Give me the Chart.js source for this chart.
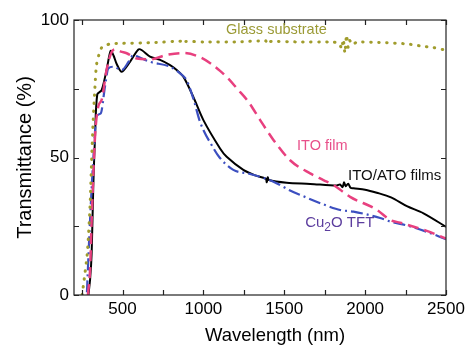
<!DOCTYPE html>
<html>
<head>
<meta charset="utf-8">
<script src="https://cdn.jsdelivr.net/npm/chart.js@4/dist/chart.umd.min.js"></script>
<style>
	html, body { margin: 0; padding: 0; background: #fff; }
	#wrap { width: 469px; height: 347px; }
</style>
</head>
<body>
<div id="wrap"><canvas id="spec"></canvas></div>
<script>
// 刻度
const xTicks = [250, 500, 750, 1000, 1250, 1500, 1750, 2000, 2250, 2500];
const xLabels = [500, 1000, 1500, 2000, 2500];
const yTicks = [0, 25, 50, 75, 100];
const yLabels = [0, 50, 100];

// Glass substrate
const glassNm = [250, 257, 282, 299, 309, 319, 330, 340, 371, 423, 500, 700, 870, 880, 890, 1000, 1200, 1385, 1395, 1405, 1600, 1800, 1840, 1855, 1865, 1875, 1885, 1895, 1905, 1920, 1950, 2100, 2260, 2350, 2420, 2500];
const glassT = [0, 3, 15, 32, 49, 64, 76, 84, 90, 91.3, 91.5, 91.8, 92.3, 91.5, 92.2, 92, 92, 92.4, 91.3, 92.2, 92, 92, 91.5, 89.5, 93, 88, 94.5, 90, 92.5, 91, 92, 91.8, 91.3, 90.5, 90, 89];

// ITO/ATO films
const itoAtoNm = [289, 300, 309, 319, 330, 344, 371, 402, 427, 445, 464, 495, 546, 598, 620, 670, 732, 794, 835, 876, 938, 1000, 1103, 1144, 1247, 1320, 1385, 1392, 1398, 1405, 1515, 1660, 1825, 1845, 1860, 1870, 1880, 1895, 1910, 1928, 2000, 2072, 2160, 2258, 2361, 2500];
const itoAtoT = [0, 6, 15, 39, 57.6, 73, 74.5, 82, 88.8, 87, 84, 81.2, 84.8, 89.3, 89, 86.7, 85.5, 83.6, 81.8, 79.4, 72, 63.6, 53.3, 50.3, 45.5, 43.5, 42.3, 41, 42.8, 41.8, 40.8, 40.4, 39.8, 40.2, 39.2, 41, 39.5, 40.5, 39, 38.8, 38.3, 37.2, 35.5, 32.3, 29.7, 24.8];

// ITO film
const itoNm = [286, 300, 309, 330, 350, 371, 402, 430, 454, 490, 526, 588, 670, 773, 876, 979, 1050, 1103, 1160, 1206, 1278, 1351, 1433, 1536, 1660, 1742, 1804, 1907, 2072, 2155, 2216, 2381, 2500];
const itoT = [0, 10, 27, 57.6, 68.5, 71, 82, 88, 89.3, 88.5, 87.9, 86, 85.7, 87.3, 88, 86.5, 84, 81.5, 78.3, 75.2, 70.3, 63.6, 56.4, 49, 44.2, 41.8, 40, 35.7, 31, 27.3, 26.3, 23.3, 20.5];

// Cu2O TFT
const cuNm = [280, 299, 319, 340, 365, 392, 412, 443, 495, 540, 567, 600, 670, 794, 856, 897, 940, 979, 1061, 1100, 1185, 1289, 1433, 1536, 1598, 1763, 1846, 1928, 2093, 2155, 2258, 2380, 2500];
const cuT = [1, 27, 49, 65, 66, 76, 82.4, 83, 81.8, 85, 87.3, 86.5, 84.8, 83, 80.6, 78, 71, 63, 53.5, 50, 45.5, 44, 41.2, 38, 36.4, 32.5, 30.9, 30.3, 28, 26.7, 25.3, 23, 20.3];

// 曲線標籤
const notes = [
	{ text: "Glass substrate", x: 1140, y: 96.3, color: "#9b9a35", size: 14.5 },
	{ text: "ITO film", x: 1579, y: 54.2, color: "#e8508a", size: 14.5 },
	{ text: "ITO/ATO films", x: 1894, y: 43.3, color: "#111111", size: 15 },
	{ text: "Cu2O TFT", x: 1629, y: 26.2, color: "#5c3d9e", size: 15 }
];

const FAMILY = "'Liberation Sans', Arial, sans-serif";

function toPts(xs, ys) {
	return xs.map(function(x, i){ return { x: x, y: ys[i] }; });
}

// 內向刻度、外框、軸標題與標籤
const framePlugin = {
	id: "frame",
	afterDatasetsDraw(chart) {
		const ctx = chart.ctx;
		const a = chart.chartArea;
		const xs = chart.scales.x;
		const ys = chart.scales.y;
		ctx.save();
		ctx.strokeStyle = "#222";
		ctx.lineWidth = 1.2;
		ctx.strokeRect(a.left, a.top, a.right - a.left, a.bottom - a.top);
		ctx.beginPath();
		xTicks.forEach(function(v){
			const px = Math.round(xs.getPixelForValue(v)) + 0.5;
			ctx.moveTo(px, a.bottom); ctx.lineTo(px, a.bottom - 5);
			ctx.moveTo(px, a.top); ctx.lineTo(px, a.top + 5);
		});
		yTicks.forEach(function(v){
			const py = Math.round(ys.getPixelForValue(v)) + 0.5;
			ctx.moveTo(a.left, py); ctx.lineTo(a.left + 5, py);
			ctx.moveTo(a.right, py); ctx.lineTo(a.right - 5, py);
		});
		ctx.stroke();

		// axis titles
		ctx.fillStyle = "#000";
		ctx.textAlign = "center";
		ctx.textBaseline = "middle";
		ctx.font = "18.5px " + FAMILY;
		ctx.fillText("Wavelength (nm)", (a.left + a.right) / 2 + 15, a.bottom + 41);
		ctx.save();
		ctx.translate(25, (a.top + a.bottom) / 2);
		ctx.rotate(-Math.PI / 2);
		ctx.font = "20px " + FAMILY;
		ctx.fillText("Transmittance (%)", 0, 0);
		ctx.restore();

		// curve labels
		ctx.textAlign = "left";
		notes.forEach(function(n){
			const px = xs.getPixelForValue(n.x);
			const py = ys.getPixelForValue(n.y);
			ctx.fillStyle = n.color;
			ctx.font = n.size + "px " + FAMILY;
			if (n.text === "Cu2O TFT") {
				ctx.fillText("Cu", px, py);
				let w = ctx.measureText("Cu").width;
				ctx.font = (n.size - 3) + "px " + FAMILY;
				ctx.fillText("2", px + w, py + 5);
				w += ctx.measureText("2").width;
				ctx.font = n.size + "px " + FAMILY;
				ctx.fillText("O TFT", px + w, py);
			} else {
				ctx.fillText(n.text, px, py);
			}
		});
		ctx.restore();
	}
};

const tickFont = { family: FAMILY, size: 17 };

const config = {
	type: "line",
	data: {
		datasets: [{
			label: "Glass substrate",
			data: toPts(glassNm, glassT),
			borderColor: "#a09c2c",
			borderWidth: 3,
			borderDash: [0.5, 7.5],
			borderCapStyle: "round",
			pointRadius: 0,
			tension: 0.2
		},{
			label: "ITO film",
			data: toPts(itoNm, itoT),
			borderColor: "#e8407f",
			borderWidth: 2.5,
			borderDash: [11, 6],
			pointRadius: 0,
			cubicInterpolationMode: "monotone"
		},{
			label: "Cu2O TFT",
			data: toPts(cuNm, cuT),
			borderColor: "#3c4fc0",
			borderWidth: 2.2,
			borderDash: [12, 4, 2, 4],
			pointRadius: 0,
			cubicInterpolationMode: "monotone"
		},{
			label: "ITO/ATO films",
			data: toPts(itoAtoNm, itoAtoT),
			borderColor: "#000000",
			borderWidth: 2,
			pointRadius: 0,
			tension: 0.3
		}]
	},
	options: {
		responsive: true,
		maintainAspectRatio: false,
		animation: false,
		layout: { padding: { top: 20, right: 23, left: 0, bottom: 0 } },
		plugins: {
			legend: { display: false },
			tooltip: { enabled: false }
		},
		scales: {
			x: {
				type: "linear",
				min: 200,
				max: 2500,
				afterBuildTicks: function(scale) {
					scale.ticks = xTicks.map(function(v){ return { value: v }; });
				},
				afterFit: function(scale) { scale.height = 52; },
				grid: { display: false, drawTicks: false },
				border: { display: false },
				ticks: {
					autoSkip: false,
					maxRotation: 0,
					padding: 4,
					color: "#000",
					font: tickFont,
					callback: function(v) { return xLabels.indexOf(v) >= 0 ? String(v) : ""; }
				}
			},
			y: {
				min: 0,
				max: 100,
				afterBuildTicks: function(scale) {
					scale.ticks = yTicks.map(function(v){ return { value: v }; });
				},
				afterFit: function(scale) { scale.width = 74; },
				grid: { display: false, drawTicks: false },
				border: { display: false },
				ticks: {
					autoSkip: false,
					padding: 5,
					color: "#000",
					font: tickFont,
					callback: function(v) { return yLabels.indexOf(v) >= 0 ? String(v) : ""; }
				}
			}
		}
	},
	plugins: [framePlugin]
};

new Chart(document.getElementById("spec"), config);
</script>
</body>
</html>
